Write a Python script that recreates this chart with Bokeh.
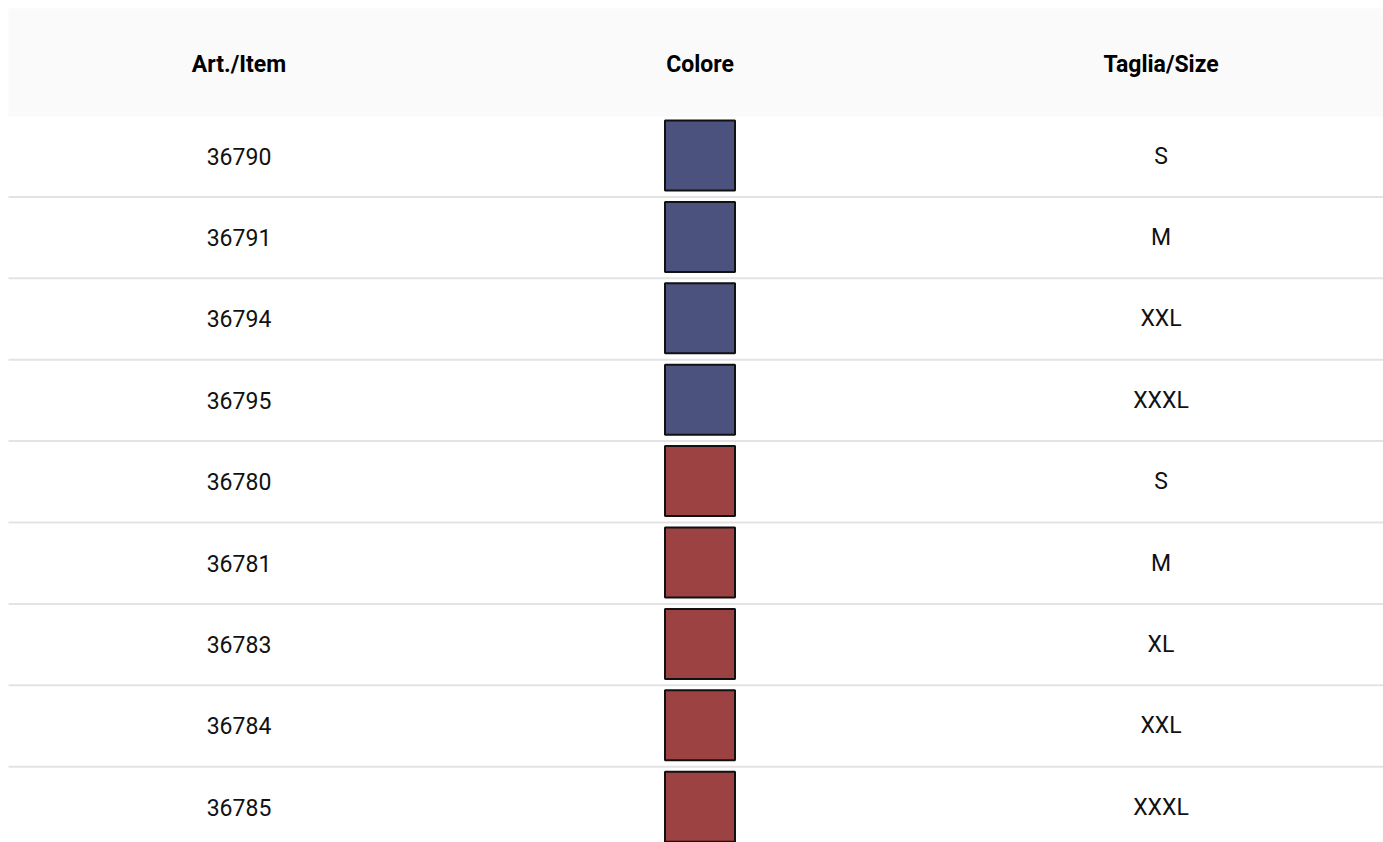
from bokeh.plotting import figure
from bokeh.models import Range1d, ColumnDataSource
from bokeh.core.properties import value
from bokeh.embed import file_html
from bokeh.resources import INLINE

# ---- data ----
headers = ["Art./Item", "Colore", "Taglia/Size"]
items = ["36790", "36791", "36794", "36795", "36780", "36781", "36783", "36784", "36785"]
swatch_colors = ["#4a527d", "#4a527d", "#4a527d", "#4a527d",
                 "#9c4243", "#9c4243", "#9c4243", "#9c4243", "#9c4243"]
sizes = ["S", "M", "XXL", "XXXL", "S", "M", "XL", "XXL", "XXXL"]

# ---- layout ----
W, H = 1383, 842
OFF = 8
HEADER_H = 108
ROW_H = 81.4
col_w = 461
col_centers = [OFF + col_w * (k + 0.5) for k in range(3)]

p = figure(width=W, height=H, output_backend="svg", toolbar_location=None,
           x_range=Range1d(0, W), y_range=Range1d(H, 0),
           min_border=0, min_border_left=0, min_border_right=0,
           min_border_top=0, min_border_bottom=0)
p.axis.visible = False
p.grid.visible = False
p.outline_line_color = None
p.background_fill_color = "white"
p.border_fill_color = "white"

# header band
p.quad(left=[OFF], right=[W + 10], top=[OFF], bottom=[OFF + HEADER_H],
       fill_color="#fafafa", line_color=None)
p.text(x=col_centers, y=[OFF + HEADER_H / 2 + 2] * 3, text=headers,
       text_font=value("Roboto"), text_font_style="bold", text_font_size="23px",
       text_align="center", text_baseline="middle", text_color="#000000")

n = len(items)
tops = [OFF + HEADER_H + ROW_H * i for i in range(n)]
text_y = [t + 39.5 for t in tops]
sw_y = [t + 39 for t in tops]
line_y = [t + ROW_H - 1 for t in tops]

# row separators
p.segment(x0=[OFF] * n, x1=[W + 10] * n, y0=line_y, y1=line_y, line_color="#e3e3e3", line_width=2)

src = ColumnDataSource(dict(item=items, size=sizes, color=swatch_colors,
                            ty=text_y, sy=sw_y,
                            x0=[col_centers[0]] * n, x1=[col_centers[1]] * n, x2=[col_centers[2]] * n))

p.text(x="x0", y="ty", text="item", source=src,
       text_font=value("Roboto"), text_font_size="23px",
       text_align="center", text_baseline="middle", text_color="#111111")
p.rect(x="x1", y="sy", width=70, height=70, source=src,
       fill_color="color", line_color="#111111", line_width=2)
p.text(x="x2", y="ty", text="size", source=src,
       text_font=value("Roboto"), text_font_size="23px",
       text_align="center", text_baseline="middle", text_color="#111111")

open("out.html", "w").write(file_html(p, INLINE))
